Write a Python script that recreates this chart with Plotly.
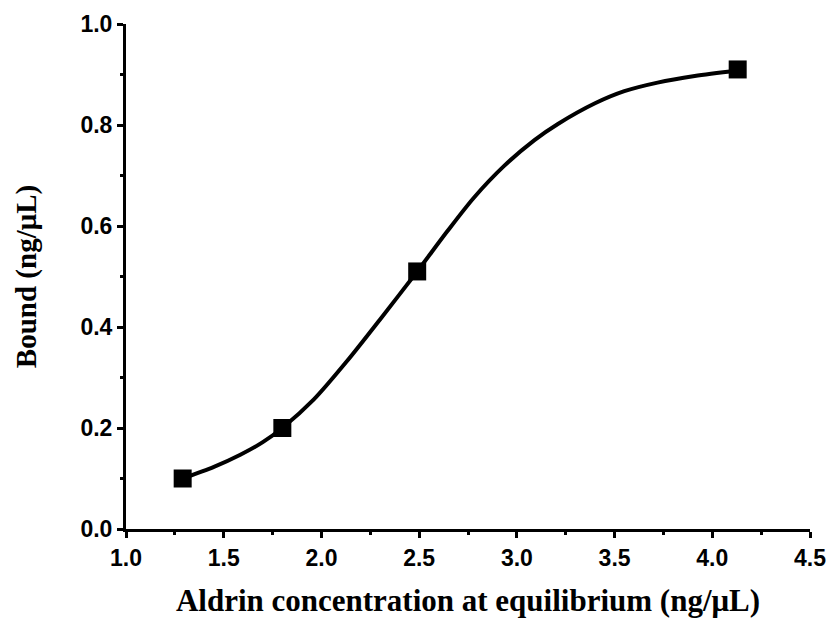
import plotly.graph_objects as go

# Measured data points
data_x = [1.29, 1.80, 2.49, 4.13]
data_y = [0.10, 0.20, 0.51, 0.91]

# Fitted curve
fit_x = [1.29, 1.45, 1.585, 1.70, 1.80, 1.96, 2.13, 2.30, 2.49, 2.645, 2.78, 2.935, 3.09, 3.21, 3.40, 3.55, 3.72, 3.91, 4.13]
fit_y = [0.100, 0.123, 0.147, 0.172, 0.200, 0.256, 0.332, 0.415, 0.510, 0.590, 0.656, 0.719, 0.770, 0.802, 0.843, 0.867, 0.884, 0.897, 0.908]

x_ticks = [1.0, 1.5, 2.0, 2.5, 3.0, 3.5, 4.0, 4.5]
y_ticks = [0.0, 0.2, 0.4, 0.6, 0.8, 1.0]

fig = go.Figure()
fig.add_trace(go.Scatter(x=fit_x, y=fit_y, mode="lines",
                         line=dict(color="black", width=4, shape="spline", smoothing=0.8),
                         showlegend=False, hoverinfo="skip"))
fig.add_trace(go.Scatter(x=data_x, y=data_y, mode="markers",
                         marker=dict(symbol="square", size=18, color="black"),
                         showlegend=False))

tickfont = dict(family="Liberation Sans, Arial", size=23, color="black")
xtitlefont = dict(family="Liberation Serif, Times New Roman", size=31, color="black")
ytitlefont = dict(family="Liberation Serif, Times New Roman", size=29, color="black")

common = dict(showline=True, linecolor="black", linewidth=3, showgrid=False, zeroline=False,
              ticks="outside", ticklen=6, tickwidth=3, tickcolor="black",
              tickfont=tickfont, automargin=False)

# page body has an 8px default margin; size the figure to compensate
fig.update_layout(
    width=826, height=620,
    margin=dict(l=118, r=24, t=16, b=99),
    plot_bgcolor="white", paper_bgcolor="white",
    xaxis=dict(range=[1.0, 4.5], tickvals=x_ticks, ticktext=[f"<b>{v:.1f}</b>" for v in x_ticks],
               minor=dict(ticks="outside", ticklen=3, tickwidth=3, tickcolor="black", dtick=0.25, tick0=1.0, showgrid=False),
               title=dict(text="<b>Aldrin concentration at equilibrium (ng/μL)</b>", font=xtitlefont, standoff=20),
               **common),
    yaxis=dict(range=[0, 1.0], tickvals=y_ticks, ticktext=[f"<b>{v:.1f}</b>" for v in y_ticks],
               minor=dict(ticks="outside", ticklen=3, tickwidth=3, tickcolor="black", dtick=0.1, tick0=0, showgrid=False),
               title=dict(text="<b>Bound (ng/μL)</b>", font=ytitlefont, standoff=36),
               **common),
)

fig.write_html("out.html")
